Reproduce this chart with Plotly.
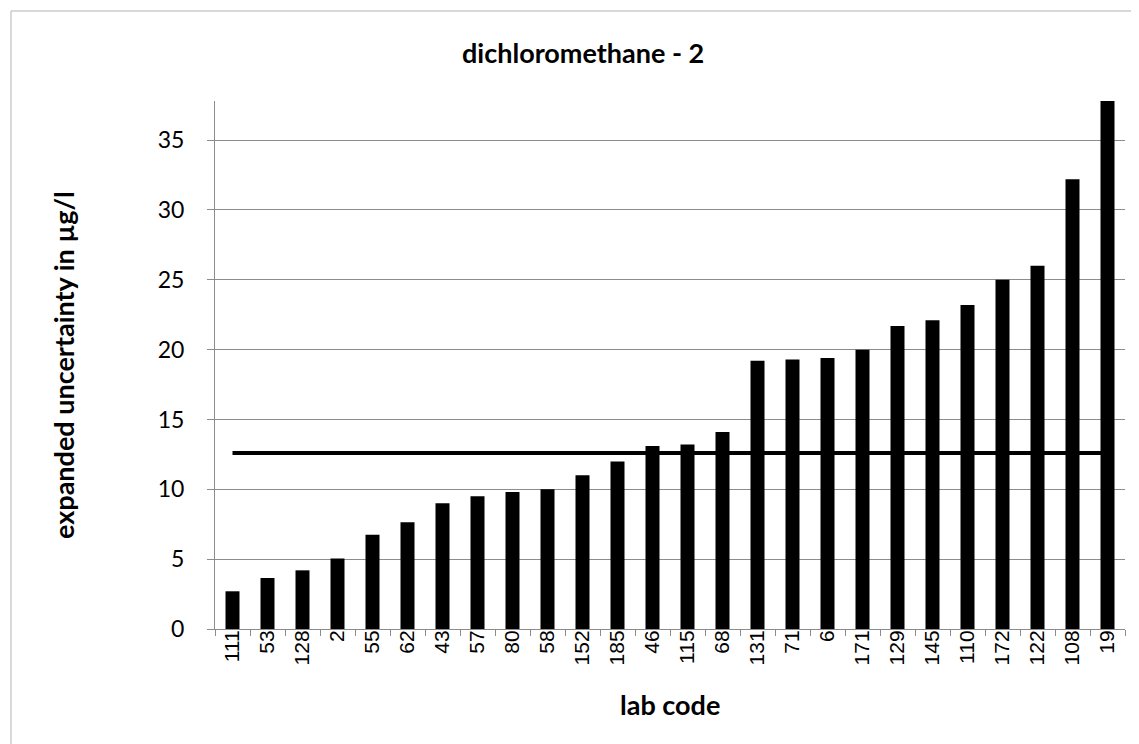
import plotly.graph_objects as go

# ---- data ----
lab_codes = ["111", "53", "128", "2", "55", "62", "43", "57", "80", "58", "152", "185", "46",
             "115", "68", "131", "71", "6", "171", "129", "145", "110", "172", "122", "108", "19"]
uncertainty = [2.7, 3.65, 4.2, 5.05, 6.75, 7.65, 9.0, 9.5, 9.8, 10.0, 11.0, 12.0, 13.1,
               13.2, 14.1, 19.2, 19.3, 19.4, 20.0, 21.7, 22.1, 23.2, 25.0, 26.0, 32.2, 37.8]
reference_value = 12.6
y_max = 37.8
y_ticks = [0, 5, 10, 15, 20, 25, 30, 35]

title_text = "dichloromethane - 2"
x_title = "lab code"
y_title = "expanded uncertainty in µg/l"

# ---- layout geometry ----
W, H = 1139, 744
ML, MR, MT, MB = 207, 22, 93, 123
PW, PH = W - ML - MR, H - MT - MB

def px_x(px):
    return (px - ML) / PW

def px_y(py):
    return (H - MB - py) / PH

CAL = "Lato, 'Open Sans', sans-serif"
ARIAL = "'Liberation Sans', Arial, sans-serif"
GRID = "#8c8c8c"

fig = go.Figure()
fig.add_trace(go.Bar(
    x=lab_codes, y=uncertainty,
    marker=dict(color="#000000", line=dict(width=0)),
    showlegend=False,
))
fig.add_trace(go.Scatter(
    x=lab_codes, y=[reference_value] * len(lab_codes),
    mode="lines", line=dict(color="#000000", width=4),
    showlegend=False,
))

fig.update_layout(
    width=W, height=H,
    margin=dict(l=ML, r=MR, t=MT, b=MB, pad=0),
    paper_bgcolor="white", plot_bgcolor="white",
    bargap=0.6,
    font=dict(family=CAL, color="#000000"),
    xaxis=dict(
        type="category",
        showline=True, linecolor=GRID, linewidth=1,
        ticks="outside", ticklen=6, tickcolor=GRID, tickson="boundaries",
        tickangle=-90,
        tickfont=dict(family=ARIAL, size=21, color="#000000"),
        showgrid=False, zeroline=False,
        ticklabelstandoff=-8,
    ),
    yaxis=dict(
        range=[0, y_max], autorange=False,
        tickvals=y_ticks,
        showline=True, linecolor=GRID, linewidth=1,
        ticks="outside", ticklen=7, tickcolor=GRID,
        tickfont=dict(family=CAL, size=23, color="#000000"),
        showgrid=True, gridcolor=GRID, gridwidth=1,
        zeroline=False,
        ticklabelstandoff=18,
    ),
    annotations=[
        dict(text="<b>%s</b>" % title_text, xref="paper", yref="paper",
             x=px_x(575), y=px_y(44), xanchor="center", yanchor="middle",
             showarrow=False, font=dict(family=CAL, size=27, color="#000000")),
        dict(text="<b>%s</b>" % x_title, xref="paper", yref="paper",
             x=px_x(662), y=px_y(696), xanchor="center", yanchor="middle",
             showarrow=False, font=dict(family=CAL, size=27, color="#000000")),
        dict(text="<b>%s</b>" % y_title, xref="paper", yref="paper",
             x=px_x(55), y=px_y(357), xanchor="center", yanchor="middle",
             textangle=-90,
             showarrow=False, font=dict(family=CAL, size=27, color="#000000")),
    ],
    shapes=[
        dict(type="rect", xref="paper", yref="paper",
             x0=px_x(3), x1=px_x(1136), y0=px_y(741), y1=px_y(3),
             line=dict(color="#b3b3b3", width=1), fillcolor="rgba(0,0,0,0)",
             layer="below"),
    ],
)

fig.write_html("out.html")
